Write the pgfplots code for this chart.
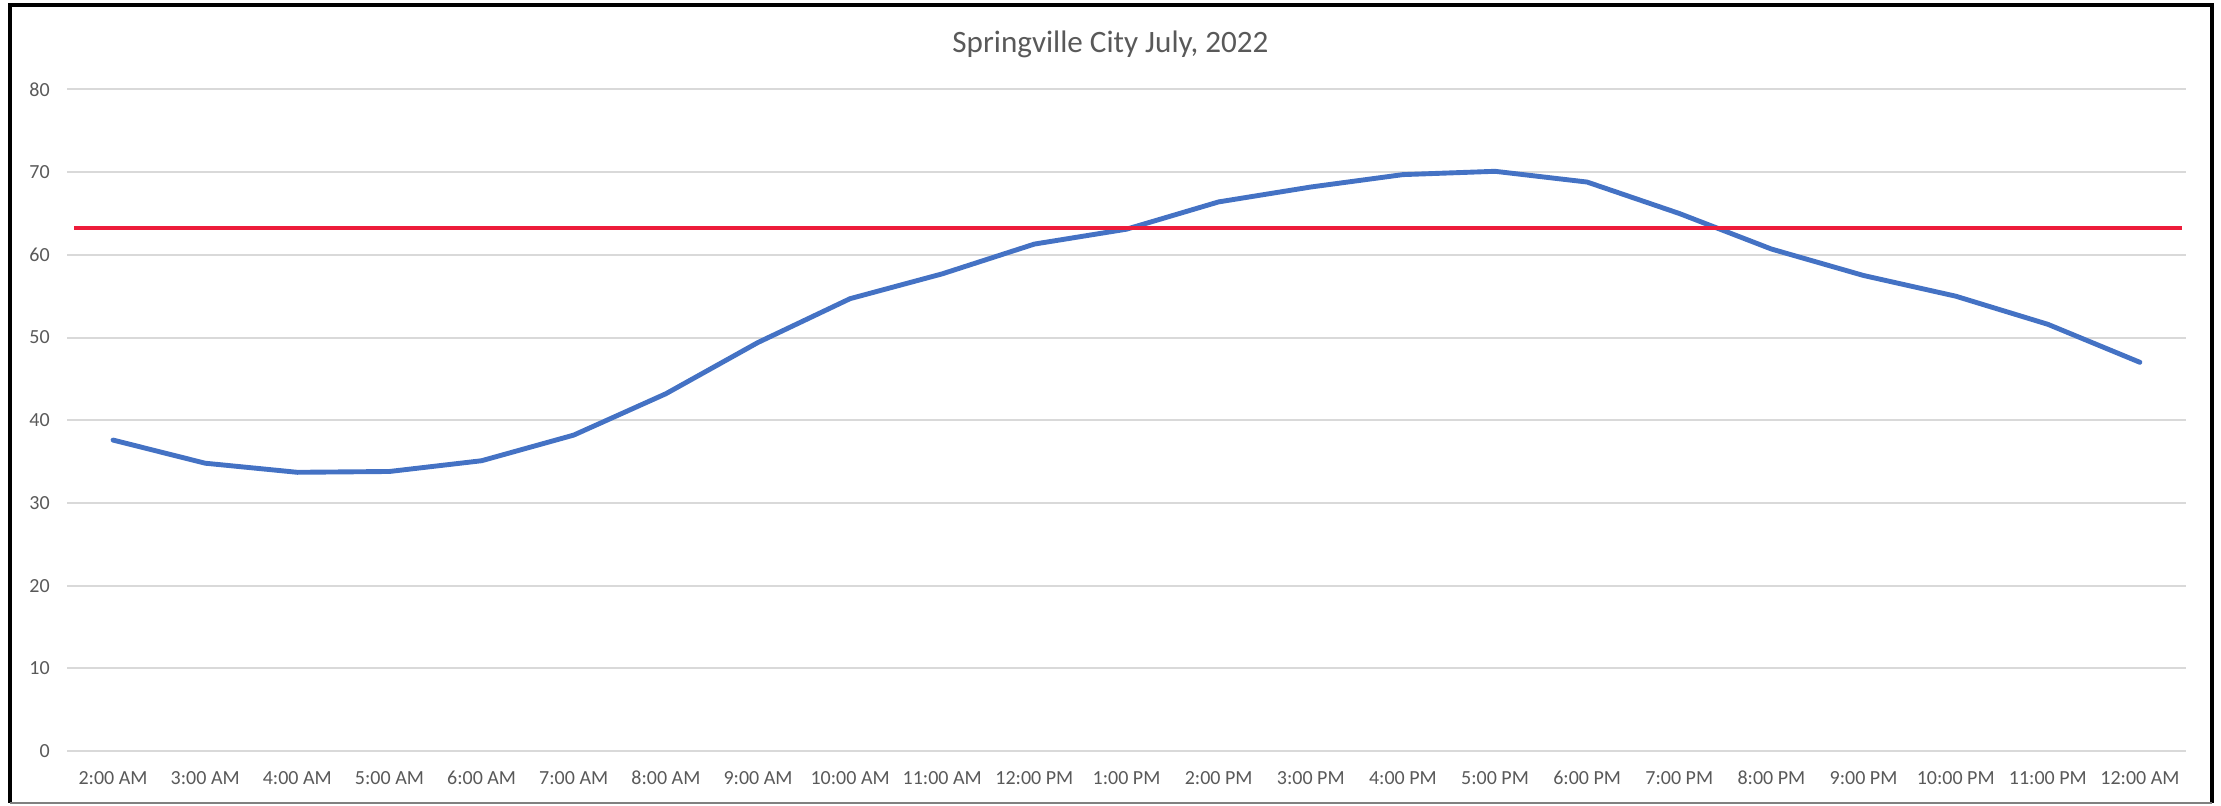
\documentclass[border=0pt]{standalone}
\usepackage{fontspec}
\setmainfont{Carlito}
\usepackage{pgfplots}
\pgfplotsset{compat=1.18}
\definecolor{lineblue}{HTML}{4472C4}
\definecolor{refred}{RGB}{237,28,58}
\definecolor{gridgray}{HTML}{D9D9D9}
\definecolor{textgray}{HTML}{595959}
\begin{document}
\begin{tikzpicture}
\path[use as bounding box] (0pt,0pt) rectangle (999.45pt,362.7pt);
\begin{axis}[
  at={(30.15pt,24.75pt)}, anchor=south west,
  scale only axis, width=953.55pt, height=297.7pt,
  xmin=-0.5, xmax=22.5, ymin=0, ymax=80,
  ytick={0,10,...,80},
  xtick={0,...,22},
  xticklabels={2:00 AM,3:00 AM,4:00 AM,5:00 AM,6:00 AM,7:00 AM,8:00 AM,9:00 AM,10:00 AM,11:00 AM,12:00 PM,1:00 PM,2:00 PM,3:00 PM,4:00 PM,5:00 PM,6:00 PM,7:00 PM,8:00 PM,9:00 PM,10:00 PM,11:00 PM,12:00 AM},
  axis line style={draw=none},
  major tick length=0pt,
  ymajorgrids,
  grid style={gridgray, line width=0.9pt},
  /pgf/number format/assume math mode=true,
  tick label style={font=\fontsize{9}{10}\selectfont, text=textgray, inner sep=0pt},
  xticklabel style={anchor=base, yshift=-15.2pt},
  yticklabel style={anchor=east, xshift=-7.6pt},
  clip=false,
]
\addplot[lineblue, line width=2.2pt, line join=round, line cap=round] coordinates {
(0,37.6) (1,34.8) (2,33.7) (3,33.8) (4,35.1) (5,38.2) (6,43.2) (7,49.4)
(8,54.7) (9,57.7) (10,61.3) (11,63.1) (12,66.4) (13,68.2) (14,69.7) (15,70.1)
(16,68.8) (17,65.0) (18,60.7) (19,57.5) (20,55.0) (21,51.6) (22,47.0)
};
\addplot[refred, line width=2pt] coordinates {(-0.42,63.25) (22.46,63.25)};
\end{axis}
\node[anchor=base, font=\fontsize{14}{16}\selectfont, text=textgray] at (499.7pt,338.9pt) {Springville City July, 2022};
\draw[line width=1.6pt] (4.5pt,1.35pt) -- (4.5pt,360.45pt) -- (995.4pt,360.45pt) -- (995.4pt,1.35pt);
\draw[gray, line width=1pt] (4.5pt,1.35pt) -- (995.4pt,1.35pt);
\end{tikzpicture}
\end{document}
